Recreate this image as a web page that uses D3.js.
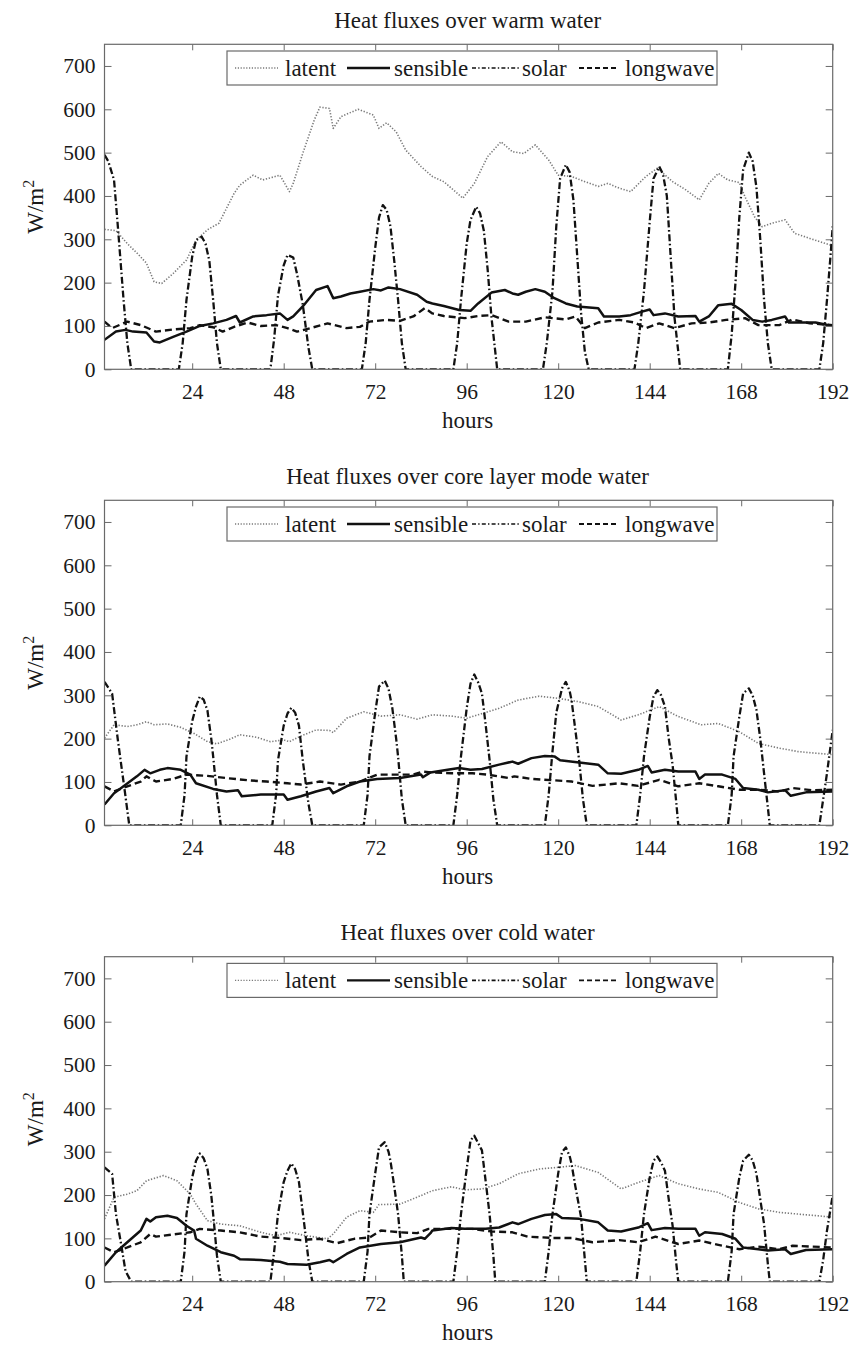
<!DOCTYPE html>
<html><head><meta charset="utf-8">
<script src="https://cdn.jsdelivr.net/npm/d3@7"></script>
<style>
body{margin:0;background:#fff}
svg text{font-family:"Liberation Serif","Times New Roman",serif;fill:#1a1a1a}
</style>
</head><body>
<svg id="chart" width="864" height="1345"></svg>
<script>
// ---------- data (hour, W/m^2) ----------
const xTicks = [24, 48, 72, 96, 120, 144, 168, 192];
const yTicks = [0, 100, 200, 300, 400, 500, 600, 700];
const seriesNames = ["latent", "sensible", "solar", "longwave"];
const titles = ["Heat fluxes over warm water", "Heat fluxes over core layer mode water", "Heat fluxes over cold water"];

const warmLatent = [[1,323],[4,320],[7,290],[10,264],[12,245],[14,202],[16,198],[19,221],[22.5,252],[25,298],[28,322],[31,337],[35,406],[36.5,425],[40,448],[42.5,437],[47,448],[48,433],[49.5,410],[50.5,429],[53,498],[56,575],[57.5,605],[60,602],[61,556],[63,583],[67.5,600],[71.5,587],[73,556],[75,569],[77.5,548],[80,506],[84,468],[87,445],[90,433],[95,395],[98,429],[101.5,491],[105,525],[108,502],[111,498],[114,518],[117.5,483],[120,448],[123.5,445],[127,433],[130.5,422],[133,429],[136,418],[139,410],[143,445],[146,464],[150,433],[153.5,414],[157,391],[159.5,429],[162,452],[164.5,437],[167.5,431],[169,398],[171.5,352],[173.5,329],[176,337],[179.5,345],[182,314],[186,302],[192,285]];
const warmSensible = [[1,68],[4,87],[6.5,91],[8.5,87],[12,85],[14,64],[15.5,62],[19,75],[22.5,87],[26,100],[29.5,106],[33,114],[35.5,123],[36.5,108],[40,122],[43.5,125],[47,129],[49,114],[50.5,122],[53,145],[56.5,183],[59.5,192],[61,164],[63,168],[65.5,175],[68,179],[71.5,185],[73.5,182],[75.5,189],[78.5,185],[83,172],[85.5,156],[87,152],[90,146],[94,137],[97,135],[99,152],[102.5,177],[106,183],[108,175],[109.5,172],[111.5,179],[114,185],[116.5,179],[119,164],[122,152],[125,145],[130.5,141],[132,122],[136,122],[139,125],[142,133],[144,138],[145,125],[148,129],[151.5,122],[156,123],[157,110],[159.5,122],[162,148],[165.5,151],[168,137],[171,114],[173.5,110],[176,114],[179.5,122],[180.5,108],[183,108],[187.5,108],[192,100]];
const warmSolar = [[1,495],[2,480],[3.5,437],[4.5,330],[6,160],[7,60],[8,0],[20.5,0],[21.5,60],[22.5,160],[24,260],[25,298],[26.5,306],[27.5,290],[28.5,250],[29.5,160],[30.5,60],[31.5,0],[44.5,0],[45.5,70],[46.5,170],[48,240],[49,264],[50.5,258],[51.5,220],[53,150],[54.5,50],[55.5,0],[68.5,0],[69.5,60],[70.5,160],[72,280],[73,350],[74,379],[75,368],[76,330],[77,250],[78,160],[79,60],[80,0],[92.5,0],[93.5,60],[94.5,160],[96,290],[97,345],[98.5,375],[99.5,360],[100.5,320],[101.5,230],[102.5,120],[104,0],[116,0],[117,60],[118.5,180],[119.5,330],[120.5,440],[122,472],[123,455],[124,390],[125,260],[126,130],[127,40],[128,0],[140,0],[141,60],[142.5,180],[144,340],[145,440],[146.5,468],[147.5,450],[148.5,400],[149.5,260],[150.5,120],[152,0],[164.5,0],[165.5,80],[166.5,200],[167.5,350],[168.5,460],[170,500],[171,480],[172,420],[173,300],[174,160],[175,60],[176,0],[188.5,0],[189.5,60],[190.5,160],[191.5,270],[192,330]];
const warmLongwave = [[1,110],[3,95],[7,110],[10.5,102],[14.5,87],[19,92],[23.5,95],[26,102],[29.5,97],[32,87],[35,98],[38.5,108],[42,100],[46,102],[49,95],[51.5,87],[55,95],[59.5,106],[64.5,95],[68,98],[70.5,110],[75,114],[78.5,112],[82,122],[85,141],[87,129],[90,123],[95.5,118],[99,123],[102.5,125],[107,110],[111.5,110],[116.5,120],[122,115],[124.5,122],[127,95],[130.5,108],[136,114],[140,108],[143,95],[146.5,106],[150.5,95],[155,106],[159.5,108],[164,114],[169,118],[172.5,102],[178,102],[181.5,115],[186,106],[192,102]];

const coreLatent = [[1,201],[3.5,232],[7,228],[9.5,232],[12,239],[14,232],[17.5,234],[21,226],[24.5,212],[28,193],[30.5,188],[34,199],[36.5,209],[41,203],[44.5,193],[48,197],[49.5,193],[52.5,206],[56.5,220],[60,219],[61,214],[64.5,247],[69,262],[73.5,252],[78.5,255],[83,245],[87,255],[92,252],[96,247],[99,255],[104.5,270],[109.5,289],[115,298],[120,293],[125.5,285],[130.5,274],[136.5,243],[141,255],[146.5,274],[151.5,251],[157.5,232],[162,235],[167.5,216],[172.5,189],[178,178],[183,170],[192,163]];
const coreSensible = [[1,48],[3.5,74],[6,90],[9.5,113],[11.5,128],[13,120],[15.5,128],[17.5,132],[21,128],[23.5,117],[25,97],[29.5,84],[33,78],[36,81],[37,67],[42,71],[48,71],[49,59],[52.5,67],[56.5,78],[60,86],[61,74],[64.5,90],[68,101],[72.5,107],[78.5,109],[84,117],[84.5,111],[86.5,122],[91,128],[94,132],[97,128],[100,130],[104.5,140],[108,147],[109.5,142],[113,155],[116.5,160],[119,159],[120.5,150],[125.5,145],[130.5,140],[133,120],[136.5,119],[141,128],[143.5,137],[144.5,122],[148,128],[151.5,124],[156,124],[157,107],[158.5,117],[163,117],[166.5,107],[168.5,86],[172.5,82],[175,76],[179.5,81],[181,68],[185,76],[192,78]];
const coreSolar = [[1,331],[3,304],[4.5,197],[6.5,67],[7.5,0],[21,0],[22,70],[22.5,159],[24,240],[25,274],[26,297],[27,290],[28,265],[29,200],[29.5,159],[30.5,70],[31.5,0],[45,0],[46,70],[46.5,150],[48,230],[49,258],[50,271],[51,260],[52,230],[53,150],[54.5,50],[55.5,0],[69,0],[70,70],[70.5,159],[72,260],[73,320],[74.5,334],[75.5,315],[76.5,270],[77.5,200],[78,159],[79,60],[80,0],[92.5,0],[93.5,70],[94.5,159],[96,270],[97,327],[98,348],[99,330],[100,304],[101,230],[102,151],[103,60],[104,0],[116.5,0],[117.5,70],[118.5,170],[119.5,260],[121,316],[122,331],[123,310],[123.5,289],[124.5,220],[125.5,150],[126.5,60],[127.5,0],[140.5,0],[141.5,70],[142.5,159],[144,250],[145,297],[146,312],[147,300],[148,274],[149,200],[150,140],[151,50],[151.5,0],[164.5,0],[165.5,70],[166,159],[167.5,250],[168.5,304],[170,316],[171,300],[172,266],[173,200],[174,120],[175,40],[175.5,0],[188.5,0],[189.5,60],[190.5,120],[192,220]];
const coreLongwave = [[1,90],[3.5,78],[7,90],[10.5,101],[12,113],[14.5,101],[19,107],[22.5,117],[28,114],[33,109],[38.5,104],[43.5,101],[49,97],[52.5,94],[57.5,101],[63,94],[68,101],[72.5,117],[78.5,117],[82,117],[84.5,124],[87,122],[92,120],[97.5,120],[101.5,117],[107,109],[108.5,113],[113,107],[118.5,104],[123.5,101],[129,91],[136,97],[141,91],[146.5,105],[151.5,90],[157,97],[162,90],[167.5,82],[172.5,82],[178,78],[181.5,86],[186.5,81],[192,82]];

const coldLatent = [[1,145],[3.5,195],[7,202],[9.5,210],[12,233],[16.5,245],[20,233],[23.5,202],[25,179],[28,141],[31.5,133],[36.5,129],[42,114],[46,106],[49.5,114],[54,106],[59.5,99],[61,110],[64.5,149],[68,164],[71.5,160],[73,178],[78.5,179],[83,195],[87,210],[92,219],[95.5,212],[100,214],[104.5,226],[109.5,249],[115,260],[120,264],[124.5,268],[130.5,252],[136.5,214],[141,229],[146.5,245],[151.5,226],[157,214],[162,206],[167.5,183],[172.5,168],[178,160],[183,156],[192,149]];
const coldSensible = [[1,37],[4,68],[7.5,95],[10.5,118],[12,145],[13,139],[14.5,149],[17.5,152],[20,147],[22.5,129],[24.5,118],[25,99],[28,83],[31.5,68],[35,60],[36.5,52],[42,50],[47,46],[49,41],[54,39],[57.5,45],[60,50],[61,45],[64.5,64],[68,79],[73.5,87],[78.5,91],[84,102],[85,99],[86.5,112],[87,118],[92,124],[95.5,122],[101,122],[104.5,125],[108,137],[109.5,133],[113,145],[116.5,154],[119.5,156],[121,147],[125.5,145],[130.5,137],[133,118],[136.5,116],[141,125],[143.5,135],[144.5,119],[148,124],[151.5,122],[156,122],[157,106],[158.5,114],[163,110],[166.5,99],[168.5,79],[172.5,75],[175,72],[179.5,75],[181,64],[185,73],[192,75]];
const coldSolar = [[1,264],[3,249],[4,156],[5.5,79],[6.5,25],[8,0],[21,0],[22,70],[22.5,156],[24,240],[25,279],[26,296],[27,285],[28,260],[29,200],[29.5,156],[30.5,60],[31.5,0],[44.5,0],[45.5,70],[46.5,156],[48,230],[49,256],[50,273],[51,260],[52,230],[53,160],[53.5,125],[54.5,50],[55.5,0],[69,0],[70,70],[70.5,156],[72,250],[73,310],[74.5,322],[75.5,300],[76,279],[77,220],[78,156],[79,60],[79.5,0],[92.5,0],[93.5,70],[94.5,156],[96,260],[97,326],[98,337],[99,320],[100,303],[101,230],[102,156],[103,60],[103.5,0],[116.5,0],[117.5,70],[118.5,156],[120,250],[121,299],[122,310],[123,290],[123.5,272],[124.5,220],[126,149],[127,50],[127.5,0],[140.5,0],[141.5,70],[142.5,156],[144,240],[145,279],[146,289],[147,275],[148,256],[149,190],[150,130],[151,40],[151.5,0],[164.5,0],[165.5,70],[166,156],[167.5,240],[168.5,279],[170,293],[171,280],[172,249],[173,190],[174,133],[175,40],[175.5,0],[188.5,0],[189.5,50],[190.5,118],[192,199]];
const coldLongwave = [[1,79],[3.5,68],[7,79],[10.5,91],[13,110],[14.5,104],[19,109],[23.5,114],[26,122],[31.5,118],[36.5,114],[42,104],[47,101],[52.5,96],[57.5,99],[62,89],[66.5,99],[70.5,102],[73.5,118],[78.5,114],[83,112],[86,122],[92,122],[97.5,122],[102.5,116],[108,114],[112,104],[118.5,101],[123.5,101],[129,91],[136,96],[141,91],[145.5,104],[151.5,87],[157,95],[162,85],[167.5,75],[172.5,81],[178,75],[181.5,83],[192,79]];

// ---------- layout & style ----------
const panelData = [
  {latent: warmLatent, sensible: warmSensible, solar: warmSolar, longwave: warmLongwave},
  {latent: coreLatent, sensible: coreSensible, solar: coreSolar, longwave: coreLongwave},
  {latent: coldLatent, sensible: coldSensible, solar: coldSolar, longwave: coldLongwave}
];
const panelTops = [44.3, 500.3, 956.7];
const plotH = 325, plotL = 104.5, plotR = 832.7;
const styles = {
  latent:   {stroke: "#7a7a7a", width: 1.6, dash: "1.3,1.7"},
  sensible: {stroke: "#111", width: 2.5, dash: null},
  solar:    {stroke: "#111", width: 2.3, dash: "7,2.6,1.6,2.6"},
  longwave: {stroke: "#111", width: 2.4, dash: "7,4"}
};
const legendStyles = {
  latent:   {stroke: "#7a7a7a", width: 1.4, dash: "1.2,1.6"},
  sensible: {stroke: "#111", width: 2.4, dash: null},
  solar:    {stroke: "#111", width: 1.6, dash: "4,2.2,1.4,2.2"},
  longwave: {stroke: "#111", width: 1.8, dash: "5,3"}
};
const drawOrder = ["latent", "solar", "longwave", "sensible"];
const legendLines = [[235, 278], [347, 390], [472, 519], [579, 617]];
const legendTextX = [285, 394, 522, 625];
const TICK_FONT = 21.5, LABEL_FONT = 23;

const svg = d3.select("#chart");
const x = d3.scaleLinear().domain([1, 192]).range([plotL, plotR]);

panelData.forEach((pd, i) => {
  const top = panelTops[i], bottom = top + plotH;
  const y = d3.scaleLinear().domain([0, 750]).range([bottom, top]);
  const g = svg.append("g");

  const clipId = "clip" + i;
  g.append("clipPath").attr("id", clipId).append("rect")
    .attr("x", plotL).attr("y", top).attr("width", plotR - plotL).attr("height", plotH);

  // series
  const line = d3.line().x(d => x(d[0])).y(d => y(d[1]));
  const lg = g.append("g").attr("clip-path", `url(#${clipId})`);
  drawOrder.forEach(name => {
    const s = styles[name];
    lg.append("path").datum(pd[name])
      .attr("d", line).attr("fill", "none")
      .attr("stroke", s.stroke).attr("stroke-width", s.width)
      .attr("stroke-dasharray", s.dash)
      .attr("stroke-linejoin", "round");
  });

  // axes
  const axColor = "#6a6a6a";
  const bx = g.append("g").attr("transform", `translate(0,${bottom})`)
    .call(d3.axisBottom(x).tickValues(xTicks).tickSizeInner(-6).tickSizeOuter(0).tickPadding(14));
  const ly = g.append("g").attr("transform", `translate(${plotL},0)`)
    .call(d3.axisLeft(y).tickValues(yTicks).tickSizeInner(-7).tickSizeOuter(0).tickPadding(9));
  const tx = g.append("g").attr("transform", `translate(0,${top})`)
    .call(d3.axisTop(x).tickValues(xTicks).tickSizeInner(-6).tickSizeOuter(0).tickFormat(""));
  const ry = g.append("g").attr("transform", `translate(${plotR},0)`)
    .call(d3.axisRight(y).tickValues(yTicks).tickSizeInner(-7).tickSizeOuter(0).tickFormat(""));
  [bx, ly, tx, ry].forEach(a => {
    a.select(".domain").remove();
    a.selectAll(".tick line").attr("stroke", axColor).attr("stroke-width", 1);
    a.selectAll("text").attr("font-size", TICK_FONT).attr("font-family", null).attr("fill", "#1a1a1a");
  });

  // frame
  g.append("rect").attr("x", plotL).attr("y", top).attr("width", plotR - plotL).attr("height", plotH)
    .attr("fill", "none").attr("stroke", axColor).attr("stroke-width", 1.2);

  // title
  g.append("text").attr("x", (plotL + plotR) / 2 - 1).attr("y", top - 16.5)
    .attr("text-anchor", "middle").attr("font-size", LABEL_FONT).text(titles[i]);
  // x label
  g.append("text").attr("x", (plotL + plotR) / 2 - 1).attr("y", bottom + 58.5)
    .attr("text-anchor", "middle").attr("font-size", LABEL_FONT).text("hours");
  // y label
  const yl = g.append("text").attr("transform", `translate(43,${(top + bottom) / 2}) rotate(-90)`)
    .attr("text-anchor", "middle").attr("font-size", LABEL_FONT);
  yl.append("tspan").text("W/m");
  yl.append("tspan").attr("dy", "-0.55em").attr("font-size", 16).text("2");

  // legend
  const legTop = top + 6.7, legH = 34;
  g.append("rect").attr("x", 227).attr("y", legTop).attr("width", 490).attr("height", legH)
    .attr("fill", "#fff").attr("stroke", axColor).attr("stroke-width", 1.2);
  seriesNames.forEach((name, k) => {
    const s = legendStyles[name];
    g.append("line").attr("x1", legendLines[k][0]).attr("x2", legendLines[k][1])
      .attr("y1", legTop + legH / 2).attr("y2", legTop + legH / 2)
      .attr("stroke", s.stroke).attr("stroke-width", s.width)
      .attr("stroke-dasharray", s.dash);
    g.append("text").attr("x", legendTextX[k]).attr("y", legTop + 25)
      .attr("font-size", LABEL_FONT).text(name);
  });
});
</script>
</body></html>
